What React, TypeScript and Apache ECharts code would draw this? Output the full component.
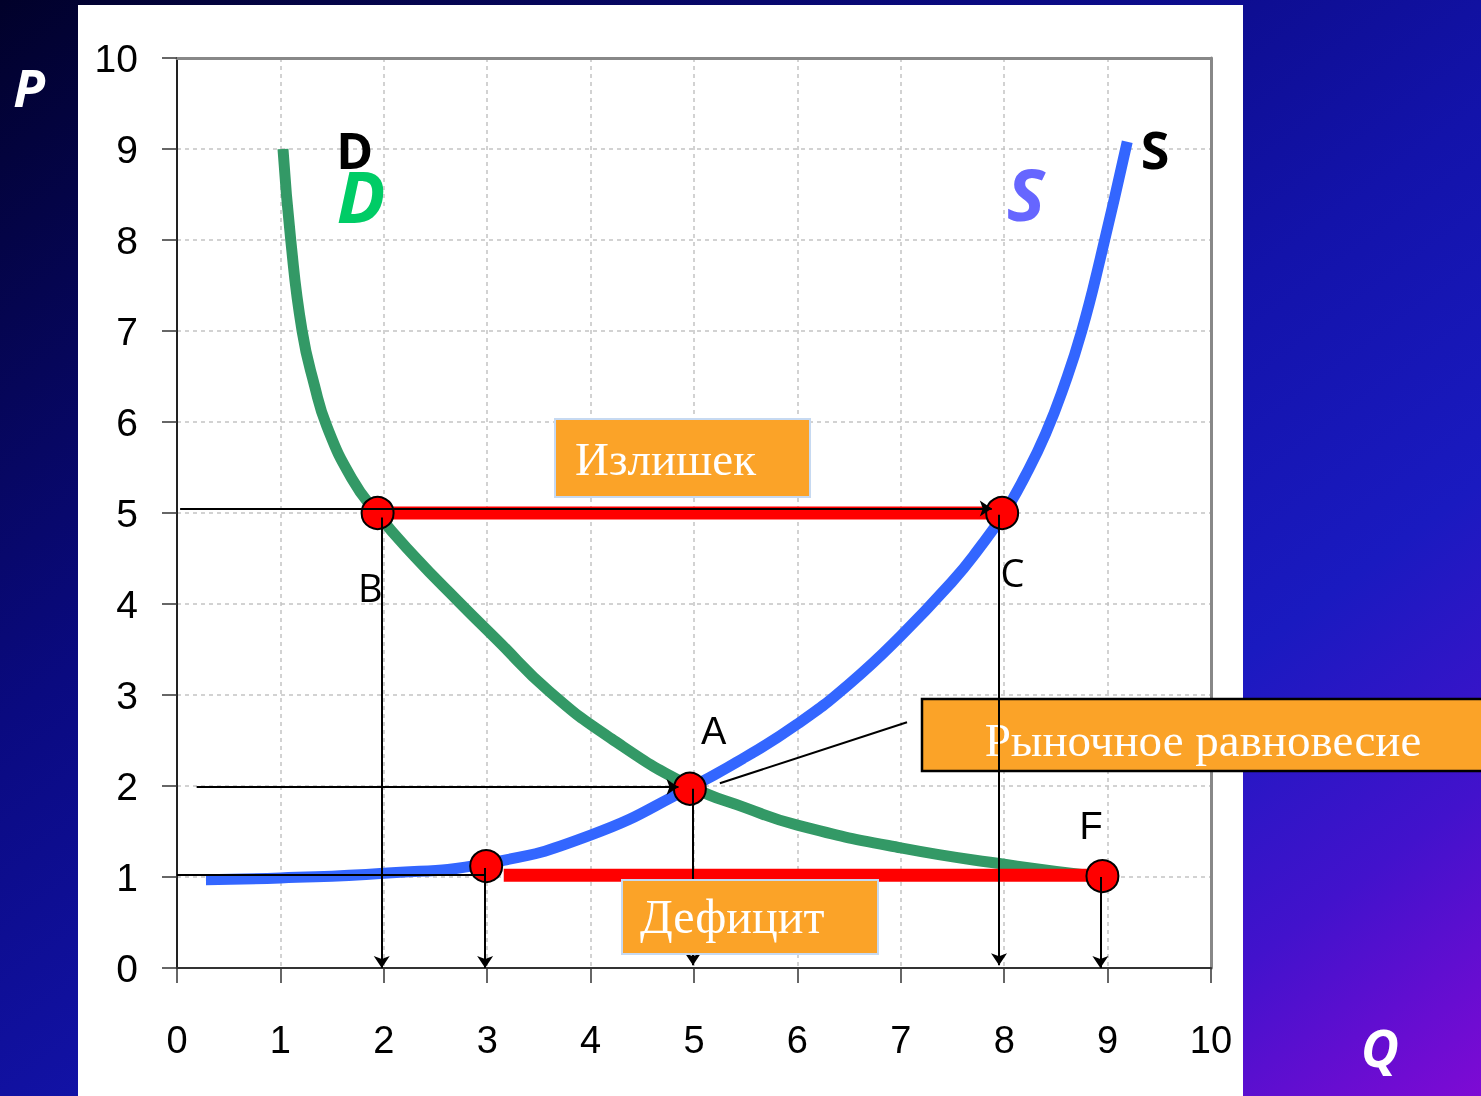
import React, { useEffect, useRef } from "react";
import * as echarts from "echarts";

// Quantity / price axis ticks
const axisMin = 0;
const axisMax = 10;
const axisStep = 1;

// Demand curve D (Q, P)
const demandCurve: [number, number][] = [
  [1.025, 9.0], [1.1, 8.0], [1.21, 7.0], [1.33, 6.4], [1.45, 5.95], [1.69, 5.38],
  [1.93, 5.0], [2.3, 4.52], [2.72, 4.03], [3.1, 3.6], [3.6, 3.04], [4.2, 2.52],
  [4.96, 2.0], [5.5, 1.76], [6.0, 1.57], [7.0, 1.32], [8.0, 1.14], [8.95, 1.0],
];

// Supply curve S (Q, P)
const supplyCurve: [number, number][] = [
  [0.28, 0.97], [1.0, 0.99], [2.0, 1.04], [3.0, 1.15], [4.0, 1.46], [4.96, 1.98],
  [5.5, 2.32], [6.0, 2.68], [6.5, 3.12], [7.0, 3.65], [7.5, 4.25], [7.75, 4.6],
  [8.0, 5.0], [8.2, 5.4], [8.4, 5.87], [8.58, 6.4], [8.75, 7.0], [8.93, 7.8],
  [9.19, 9.08],
];

// Key points B, C, A, (3;1.1), F
const keyPoints: [number, number][] = [
  [1.94, 5.0], [7.98, 5.0], [4.96, 1.97], [2.99, 1.12], [8.95, 1.01],
];

// Surplus (B → C) and shortage segments
const surplusSegment: [number, number][] = [[1.94, 5.0], [7.98, 5.0]];
const shortageSegment: [number, number][] = [[3.16, 1.02], [8.95, 1.02]];

// Thin guide lines with arrow heads [from, to]
const arrowGuides: [number, number][][] = [
  [[0.03, 5.05], [7.88, 5.05]],
  [[1.98, 4.95], [1.98, 0.0]],
  [[2.98, 1.1], [2.98, 0.0]],
  [[4.99, 1.97], [4.99, 0.03]],
  [[7.95, 4.98], [7.95, 0.03]],
  [[8.93, 1.0], [8.93, 0.0]],
  [[0.19, 1.99], [4.85, 1.99]],
];

// Thin guide lines without arrow heads
const plainGuides: [number, number][][] = [
  [[0.0, 1.02], [2.98, 1.02]],
  [[5.25, 2.03], [7.06, 2.7]],
];

// Point / curve letters: [Q, P, text, kind]
const letterLabels: [number, number, string, string][] = [
  [1.72, 8.99, "D", "black"],
  [1.78, 8.49, "D", "green"],
  [8.21, 8.52, "S", "purple"],
  [9.46, 9.01, "S", "blackS"],
  [1.87, 4.19, "B", "point"],
  [8.08, 4.35, "C", "point"],
  [5.19, 2.6, "A", "arial"],
  [8.84, 1.56, "F", "arial"],
];

const boxTexts = ["Излишек", "Рыночное равновесие", "Дефицит"];
const axisNames = ["P", "Q"];

const SANS = '"Open Sans", "DejaVu Sans", sans-serif';
const ARIAL = '"Liberation Sans", Arial, sans-serif';
const SERIF = '"Liberation Serif", "Times New Roman", serif';

const labelStyles: Record<string, any> = {
  black: { fontSize: 50, fontWeight: "bold", fontFamily: SANS, color: "#000" },
  green: { fontSize: 72, fontWeight: "bold", fontStyle: "italic", fontFamily: SANS, color: "#00CC66" },
  purple: { fontSize: 72, fontWeight: "bold", fontStyle: "italic", fontFamily: SANS, color: "#6666FF" },
  blackS: { fontSize: 52, fontWeight: "bold", fontFamily: SANS, color: "#000" },
  point: { fontSize: 38, fontFamily: SANS, color: "#000" },
  arial: { fontSize: 38, fontFamily: ARIAL, color: "#000" },
};

export default function App() {
  const ref = useRef<HTMLDivElement>(null);

  useEffect(() => {
    if (!ref.current) return;
    const chart = echarts.init(ref.current, null, { renderer: "svg" });

    const orange = "#FBA328";

    const option: any = {
      animation: false,
      grid: { left: 177, top: 58, right: 270, bottom: 128, outerBoundsMode: "none" },
      xAxis: [
        {
          type: "value",
          min: axisMin,
          max: axisMax,
          interval: axisStep,
          position: "bottom",
          axisLine: { show: true, onZero: false, lineStyle: { color: "#333", width: 2 } },
          axisTick: { show: true, length: 15, lineStyle: { color: "#333", width: 1.5 } },
          axisLabel: { fontSize: 38, color: "#000", fontFamily: ARIAL, margin: 53 },
          splitLine: { show: true, lineStyle: { color: "#c4c4c4", width: 1.5, type: [4, 4] } },
        },
        {
          type: "value",
          min: axisMin,
          max: axisMax,
          interval: axisStep,
          position: "top",
          axisLine: { show: true, onZero: false, lineStyle: { color: "#888", width: 3 } },
          axisTick: { show: false },
          axisLabel: { show: false },
          splitLine: { show: false },
        },
      ],
      yAxis: [
        {
          type: "value",
          min: axisMin,
          max: axisMax,
          interval: axisStep,
          position: "left",
          axisLine: { show: true, onZero: false, lineStyle: { color: "#222", width: 2 } },
          axisTick: { show: true, length: 15, lineStyle: { color: "#333", width: 1.5 } },
          axisLabel: { fontSize: 39, color: "#000", fontFamily: ARIAL, margin: 39 },
          splitLine: { show: true, lineStyle: { color: "#c4c4c4", width: 1.5, type: [4, 4] } },
        },
        {
          type: "value",
          min: axisMin,
          max: axisMax,
          interval: axisStep,
          position: "right",
          axisLine: { show: true, onZero: false, lineStyle: { color: "#888", width: 3 } },
          axisTick: { show: false },
          axisLabel: { show: false },
          splitLine: { show: false },
        },
      ],
      series: [
        {
          name: "D",
          type: "line",
          data: demandCurve,
          smooth: 0.5,
          showSymbol: false,
          symbol: "none",
          lineStyle: { color: "#339966", width: 11 },
          z: 2,
          silent: true,
        },
        {
          name: "S",
          type: "line",
          data: supplyCurve,
          smooth: 0.5,
          showSymbol: false,
          symbol: "none",
          lineStyle: { color: "#3366FF", width: 11 },
          z: 2,
          silent: true,
        },
        {
          name: "surplus",
          type: "line",
          data: surplusSegment,
          symbol: "none",
          lineStyle: { color: "#FF0000", width: 13 },
          z: 3,
          silent: true,
        },
        {
          name: "shortage",
          type: "line",
          data: shortageSegment,
          symbol: "none",
          lineStyle: { color: "#FF0000", width: 13 },
          z: 3,
          silent: true,
        },
        {
          name: "points",
          type: "scatter",
          data: keyPoints,
          symbol: "circle",
          symbolSize: 32,
          itemStyle: { color: "#FF0000", borderColor: "#000", borderWidth: 2, opacity: 1 },
          z: 4,
          silent: true,
        },
        {
          name: "arrows",
          type: "line",
          data: [],
          markLine: {
            silent: true,
            z: 5,
            symbol: ["none", "arrow"],
            symbolSize: 12,
            label: { show: false },
            lineStyle: { color: "#000", width: 2, type: "solid", opacity: 1 },
            emphasis: { disabled: true },
            data: arrowGuides.map((seg) => [{ coord: seg[0] }, { coord: seg[1] }]),
          },
        },
        {
          name: "plain",
          type: "line",
          data: [],
          markLine: {
            silent: true,
            z: 5,
            symbol: ["none", "none"],
            label: { show: false },
            lineStyle: { color: "#000", width: 2, type: "solid", opacity: 1 },
            emphasis: { disabled: true },
            data: plainGuides.map((seg) => [{ coord: seg[0] }, { coord: seg[1] }]),
          },
        },
        {
          name: "letters",
          type: "scatter",
          symbol: "circle",
          symbolSize: 1,
          itemStyle: { color: "rgba(0,0,0,0)", opacity: 1 },
          z: 6,
          silent: true,
          data: letterLabels.map(([q, p, t, kind]) => ({
            value: [q, p],
            name: t,
            label: {
              show: true,
              position: "inside",
              formatter: "{b}",
              opacity: 1,
              textBorderWidth: 0,
              ...labelStyles[kind],
            },
          })),
        },
      ],
      graphic: [
        {
          type: "rect",
          z: -20,
          silent: true,
          shape: { x: 0, y: 0, width: 1481, height: 1096 },
          style: {
            fill: new echarts.graphic.LinearGradient(0, 0, 1, 1, [
              { offset: 0, color: "#01012a" },
              { offset: 0.33, color: "#0a0a80" },
              { offset: 0.55, color: "#1313aa" },
              { offset: 0.72, color: "#1a1ac0" },
              { offset: 0.86, color: "#4212cc" },
              { offset: 1, color: "#7e0ad4" },
            ]),
          },
        },
        {
          type: "rect",
          z: -19,
          silent: true,
          shape: { x: 78, y: 5, width: 1165, height: 1091 },
          style: { fill: "#ffffff" },
        },
        {
          type: "text",
          z: 10,
          x: 29,
          y: 86,
          style: {
            text: axisNames[0],
            fill: "#ffffff",
            fontSize: 52,
            fontWeight: "bold",
            fontStyle: "italic",
            fontFamily: SANS,
            align: "center",
            verticalAlign: "middle",
          },
        },
        {
          type: "text",
          z: 10,
          x: 1380,
          y: 1046,
          style: {
            text: axisNames[1],
            fill: "#ffffff",
            fontSize: 52,
            fontWeight: "bold",
            fontStyle: "italic",
            fontFamily: SANS,
            align: "center",
            verticalAlign: "middle",
          },
        },
        // Surplus box
        {
          type: "rect",
          z: 4,
          silent: true,
          shape: { x: 555, y: 419, width: 255, height: 78 },
          style: { fill: orange, stroke: "#C6D9F1", lineWidth: 2 },
        },
        {
          type: "text",
          z: 4.5,
          x: 575,
          y: 459,
          style: {
            text: boxTexts[0],
            fill: "#ffffff",
            fontSize: 47,
            fontFamily: SERIF,
            align: "left",
            verticalAlign: "middle",
          },
        },
        // Equilibrium box
        {
          type: "rect",
          z: 4,
          silent: true,
          shape: { x: 922, y: 699, width: 600, height: 72 },
          style: { fill: orange, stroke: "#000", lineWidth: 2.5 },
        },
        {
          type: "text",
          z: 4.5,
          x: 1203,
          y: 740,
          style: {
            text: boxTexts[1],
            fill: "#ffffff",
            fontSize: 47,
            fontFamily: SERIF,
            align: "center",
            verticalAlign: "middle",
          },
        },
        // Shortage box
        {
          type: "rect",
          z: 6,
          silent: true,
          shape: { x: 622, y: 880, width: 256, height: 74 },
          style: { fill: orange, stroke: "#C6D9F1", lineWidth: 2 },
        },
        {
          type: "text",
          z: 6.5,
          x: 640,
          y: 916,
          style: {
            text: boxTexts[2],
            fill: "#ffffff",
            fontSize: 48,
            fontFamily: SERIF,
            align: "left",
            verticalAlign: "middle",
          },
        },
      ],
    };

    chart.setOption(option);
    return () => chart.dispose();
  }, []);

  return (
    <div
      ref={ref}
      style={{ position: "fixed", left: 0, top: 0, width: 1481, height: 1096 }}
    />
  );
}
